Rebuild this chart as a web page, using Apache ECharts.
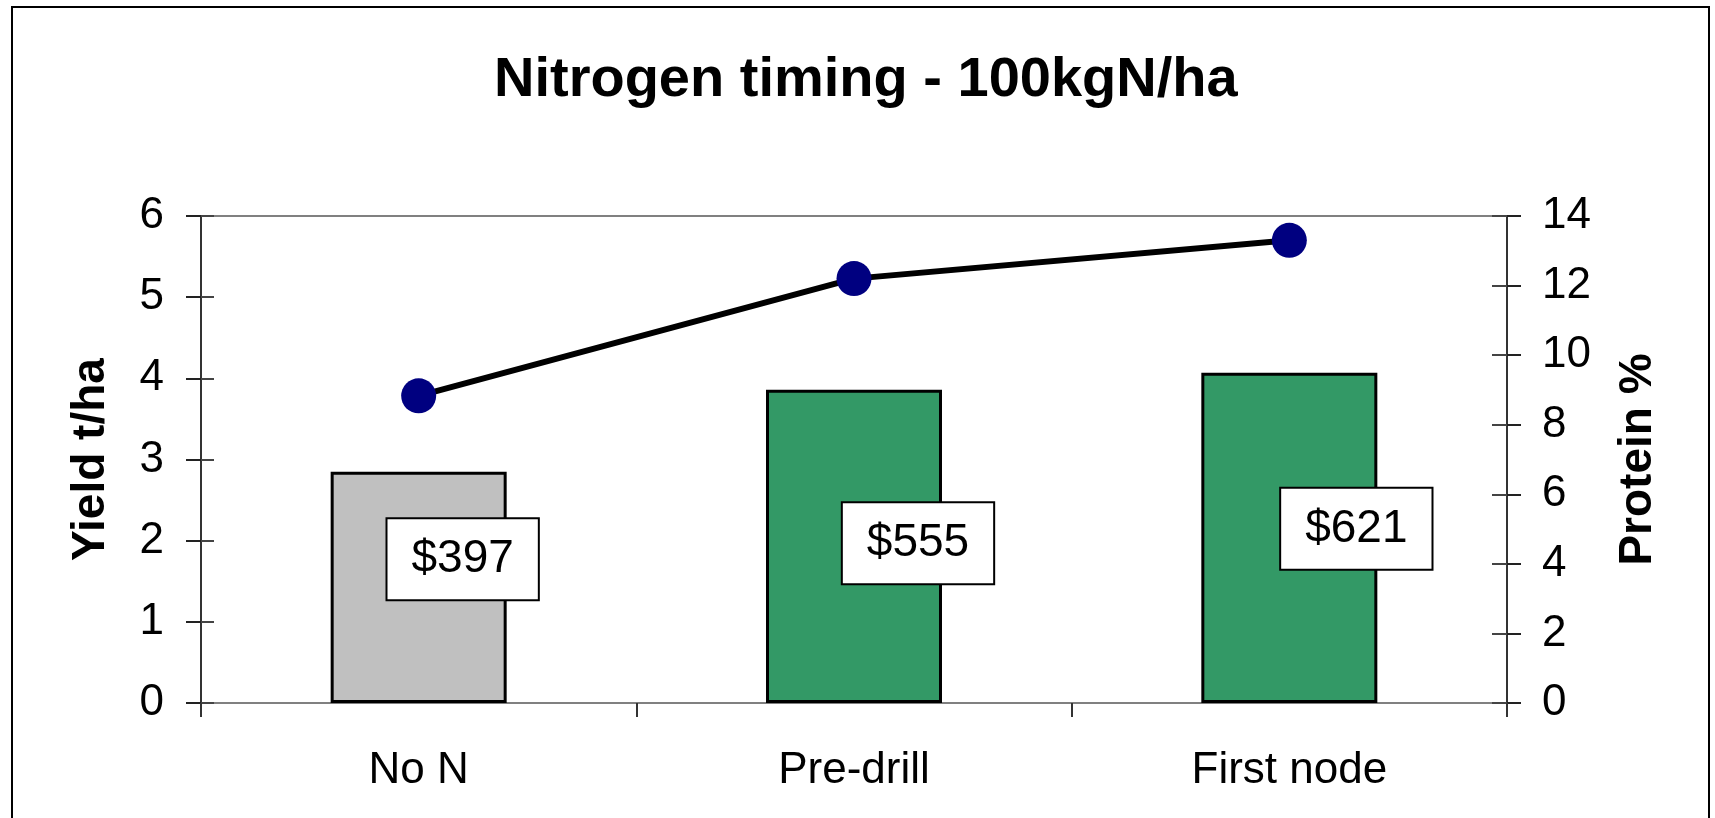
<!DOCTYPE html>
<html>
<head>
<meta charset="utf-8">
<script src="https://cdn.jsdelivr.net/npm/echarts@6/dist/echarts.min.js"></script>
<style>
html,body{margin:0;padding:0;background:#fff;}
#chart{width:1715px;height:818px;}
</style>
</head>
<body>
<div id="chart"></div>
<script>
// ---- data ----
var categories = ['No N', 'Pre-drill', 'First node'];
var yieldValues = [2.85, 3.86, 4.07];
var proteinValues = [8.83, 12.2, 13.3];
var profitValues = [397, 555, 621];
var yieldTicks = [0, 1, 2, 3, 4, 5, 6];
var proteinTicks = [0, 2, 4, 6, 8, 10, 12, 14];

// ---- styling ----
var FONT = "'Liberation Sans', Arial, Helvetica, sans-serif";
var barColors = ['#C0C0C0', '#339966', '#339966'];
var labelOffsets = [[44, -28], [64, -3], [67, -9]];

var chart = echarts.init(document.getElementById('chart'));

var barData = yieldValues.map(function (v, i) {
  return {
    value: v,
    itemStyle: { color: barColors[i] },
    label: { offset: labelOffsets[i] }
  };
});

function yAxisBase(ticks, pos) {
  return {
    type: 'value',
    position: pos,
    min: ticks[0],
    max: ticks[ticks.length - 1],
    interval: ticks[1] - ticks[0],
    splitLine: { show: false }
  };
}

var yLeft = Object.assign(yAxisBase(yieldTicks, 'left'), {
  name: 'Yield t/ha',
  nameLocation: 'middle',
  nameRotate: 90,
  nameGap: 87,
  nameTextStyle: { fontFamily: FONT, fontSize: 46, fontWeight: 'bold', color: '#000' },
  axisLine: { show: true, lineStyle: { color: '#333', width: 2 } },
  axisTick: { show: true, inside: false, length: 15, lineStyle: { color: '#222', width: 2 } },
  axisLabel: { fontFamily: FONT, fontSize: 44, color: '#000', margin: 37 }
});
var yRight = Object.assign(yAxisBase(proteinTicks, 'right'), {
  name: 'Protein %',
  nameLocation: 'middle',
  nameRotate: 90,
  nameGap: 108,
  nameTextStyle: { fontFamily: FONT, fontSize: 46, fontWeight: 'bold', color: '#000' },
  axisLine: { show: true, lineStyle: { color: '#333', width: 2 } },
  axisTick: { show: true, inside: false, length: 14, lineStyle: { color: '#222', width: 2 } },
  axisLabel: { fontFamily: FONT, fontSize: 44, color: '#000', margin: 35 }
});
var yLeftInner = Object.assign(yAxisBase(yieldTicks, 'left'), {
  axisLine: { show: false },
  axisTick: { show: true, inside: true, length: 13, lineStyle: { color: '#444', width: 2 } },
  axisLabel: { show: false }
});
var yRightInner = Object.assign(yAxisBase(proteinTicks, 'right'), {
  axisLine: { show: false },
  axisTick: { show: true, inside: true, length: 15, lineStyle: { color: '#444', width: 2 } },
  axisLabel: { show: false }
});

var option = {
  backgroundColor: '#fff',
  animation: false,
  title: {
    text: 'Nitrogen timing - 100kgN/ha',
    left: 494,
    top: 53,
    padding: 0,
    textStyle: { fontFamily: FONT, fontSize: 56, fontWeight: 'bold', color: '#000' }
  },
  graphic: [{
    type: 'rect',
    shape: { x: 12, y: 7, width: 1697, height: 840 },
    style: { fill: 'none', stroke: '#000', lineWidth: 2 },
    silent: true,
    z: 100
  }],
  grid: {
    left: 201, right: 208, top: 216, bottom: 115,
    show: true, borderColor: '#808080', borderWidth: 2, backgroundColor: '#fff'
  },
  xAxis: {
    type: 'category',
    data: categories,
    axisLine: { show: true, lineStyle: { color: '#808080', width: 2 } },
    axisTick: { show: true, inside: false, length: 14, alignWithLabel: false, lineStyle: { color: '#333', width: 2 } },
    axisLabel: { fontFamily: FONT, fontSize: 44, color: '#000', margin: 46 },
    splitLine: { show: false }
  },
  yAxis: [yLeft, yRight, yLeftInner, yRightInner],
  series: [
    {
      type: 'bar',
      yAxisIndex: 0,
      data: barData,
      barWidth: 176,
      itemStyle: { borderColor: '#000', borderWidth: 3 },
      label: {
        show: true,
        position: 'inside',
        formatter: function (p) { return '$' + profitValues[p.dataIndex]; },
        fontFamily: FONT,
        fontSize: 46,
        lineHeight: 46,
        color: '#000',
        backgroundColor: '#fff',
        borderColor: '#000',
        borderWidth: 2,
        padding: [17, 24]
      },
      z: 2
    },
    {
      type: 'line',
      yAxisIndex: 1,
      data: proteinValues,
      symbol: 'circle',
      symbolSize: 35,
      lineStyle: { color: '#000', width: 6 },
      itemStyle: { color: '#000080', borderWidth: 0 },
      z: 3
    }
  ]
};

chart.setOption(option);
</script>
</body>
</html>
